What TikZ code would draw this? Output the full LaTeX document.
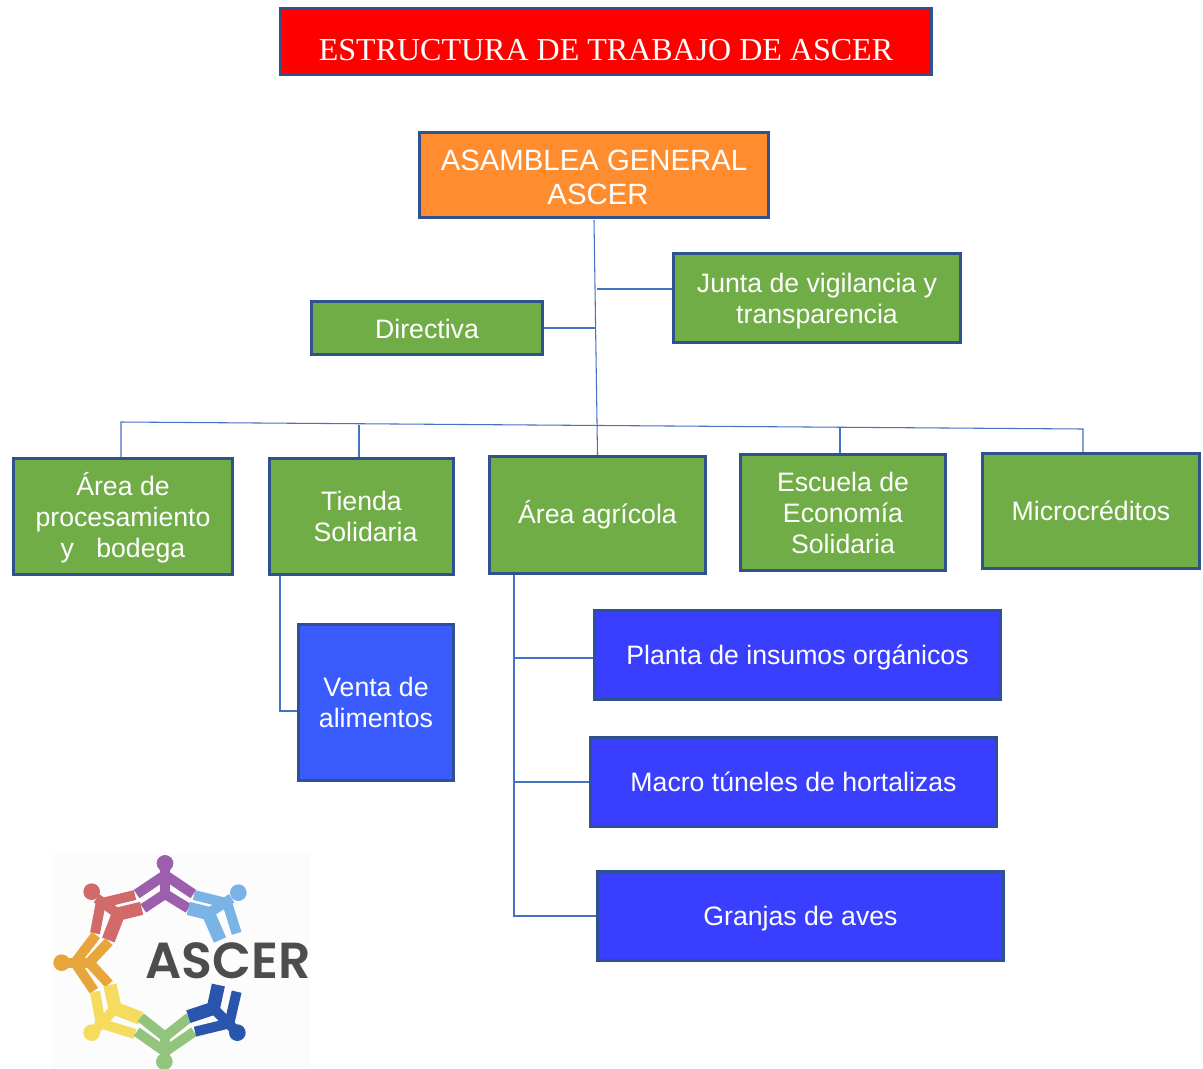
\documentclass[tikz,border=0pt]{standalone}
\usepackage{fontspec}
\setmainfont{Liberation Sans}
\newfontfamily\serifa{Liberation Serif}
\newfontfamily\logofont{Poppins SemiBold}
\definecolor{edge}{HTML}{2F528F}
\definecolor{wire}{HTML}{4472C4}
\definecolor{gr}{HTML}{70AD47}
\definecolor{orangebox}{HTML}{FF8C2E}
\definecolor{bluea}{HTML}{3A5CFF}
\definecolor{blueb}{HTML}{3A3FFF}
\definecolor{pur}{HTML}{9B5FAE}
\definecolor{lbl}{HTML}{7AB3E6}
\definecolor{rd}{HTML}{D26A6A}
\definecolor{org}{HTML}{E8A53C}
\definecolor{yel}{HTML}{F5DC5E}
\definecolor{grn}{HTML}{93C47D}
\definecolor{dbl}{HTML}{2A55AD}
\definecolor{lgc}{HTML}{4D4D4D}
\tikzset{
  base/.style={draw=edge,line width=2pt,text=white,align=center,inner sep=0pt,
    font=\fontsize{20}{23.25}\selectfont},
  greenbox/.style={base,fill=gr},
  orbox/.style={base,fill=orangebox,font=\fontsize{22}{25.5}\selectfont},
  redbox/.style={base,fill=red,font=\serifa\fontsize{24}{28}\selectfont},
  bluebox/.style={base,fill=blueb},
  bluesq/.style={base,fill=bluea},
  wirel/.style={draw=wire,line width=.8pt},
  limb/.style={line width=7.5pt,line join=miter,line cap=butt},
  limbw/.style={line width=10pt,line join=miter,line cap=butt}
}
\newcommand\pbox[7]{%
  \pgfmathsetmacro\pw{(#5-#3-2.7)*.75}%
  \pgfmathsetmacro\ph{(#6-#4-2.7)*.75}%
  \node[#2,minimum width=\pw pt,minimum height=\ph pt] (#1) at ({(#3+#5)/2},{(#4+#6)/2}) {#7};}
\newcommand\dn[2]{\raisebox{0pt}[\dimexpr\height+#1\relax]{#2}}
\begin{document}
\begin{tikzpicture}[x=.75pt,y=-.75pt]
\useasboundingbox (0,0) rectangle (1203,1068);
\pbox{title}{redbox}{279}{7}{933}{76}{\dn{13.5pt}{ESTRUCTURA DE TRABAJO DE ASCER}}
\pbox{asamblea}{orbox}{418}{131}{770}{219}{\dn{3pt}{ASAMBLEA GENERAL}\\\hspace*{6pt}ASCER}
\pbox{directiva}{greenbox}{310}{300}{544}{356}{\dn{1.5pt}{Directiva}}
\pbox{junta}{greenbox}{672}{252}{962}{344}{\dn{4.5pt}{Junta de vigilancia y}\\transparencia}
\pbox{proc}{greenbox}{12}{457}{234}{576}{\dn{1.5pt}{Área de}\\procesamiento\\y\ \ \ bodega}
\pbox{tienda}{greenbox}{268}{457}{455}{576}{Tienda\\\hspace*{6pt}Solidaria}
\pbox{agri}{greenbox}{488}{455}{707}{575}{Área agrícola}
\pbox{escuela}{greenbox}{739}{453}{947}{572}{\dn{1pt}{Escuela de}\\Economía\\Solidaria}
\pbox{micro}{greenbox}{981}{452}{1201}{570}{Microcréditos}
\pbox{venta}{bluesq}{297}{623}{455}{782}{Venta de\\alimentos}
\pbox{planta}{bluebox}{593}{609}{1002}{701}{\dn{3pt}{Planta de insumos orgánicos}}
\pbox{macro}{bluebox}{589}{736}{998}{828}{Macro túneles de hortalizas}
\pbox{granjas}{bluebox}{596}{870}{1005}{962}{\dn{4.5pt}{Granjas de aves}}
% junctions
\coordinate (trTop) at (594,220);
\coordinate (trJun) at (597,289);
\coordinate (trDir) at (594.5,328);
\coordinate (hL) at (121,422);
\coordinate (hT) at (359,425);
\coordinate (hE) at (840,428);
\coordinate (hR) at (1083,429);
\coordinate (vT) at (280,711);
\coordinate (vA) at (514,916);
\coordinate (vA1) at (514,658);
\coordinate (vA2) at (514,782);
\draw[wirel] (trTop) -- (agri.north);
\draw[wirel] (junta.west |- trJun) -- (trJun);
\draw[wirel] (directiva.east) -- (trDir);
\draw[wirel] (proc.north -| hL) -- (hL) -- (hR) -- (micro.north -| hR);
\draw[wirel] (tienda.north -| hT) -- (hT);
\draw[wirel] (escuela.north -| hE) -- (hE);
\draw[wirel] (tienda.south -| vT) -- (vT) -- (venta.west |- vT);
\draw[wirel] (agri.south -| vA) -- (vA) -- (granjas.west |- vA);
\draw[wirel] (vA1) -- (planta.west |- vA1);
\draw[wirel] (vA2) -- (macro.west |- vA2);
% logo
\fill[black!1] (52,853) rectangle (310,1068);
\begin{scope}[shift={(40,840)},x=.25pt,y=-.25pt]
\begin{scope}
\clip (0,0) rectangle (840,684);
% purple
\fill[pur] (375,70) circle (25);
\draw[limb,pur] (290,162) -- (375,105) -- (460,162);
\draw[limb,pur] (310,205) -- (375,162) -- (445,205);
\draw[limb,pur] (375,90) -- (375,162);
% light blue
\fill[lbl] (595,158) circle (25);
\draw[limb,lbl] (462,165) -- (562,190) -- (590,280);
\draw[limbw,lbl] (445,205) -- (505,220) -- (540,300);
\draw[limb,lbl] (505,220) -- (575,175);
% red
\fill[rd] (155,155) circle (25);
\draw[limb,rd] (285,165) -- (182,190) -- (165,280);
\draw[limbw,rd] (305,205) -- (235,222) -- (205,300);
\draw[limb,rd] (235,222) -- (170,175);
% orange
\fill[org] (65,368) circle (25);
\draw[limb,org] (168,285) -- (105,368) -- (162,452);
\draw[limb,org] (207,305) -- (148,368) -- (207,432);
\draw[limb,org] (85,368) -- (148,368);
% yellow
\fill[yel] (155,578) circle (25);
\draw[limb,yel] (165,455) -- (182,550) -- (285,582);
\draw[limbw,yel] (210,435) -- (225,505) -- (302,535);
\draw[limb,yel] (225,505) -- (170,565);
% green
\fill[grn] (373,665) circle (25);
\draw[limb,grn] (302,532) -- (375,590) -- (448,532);
\draw[limb,grn] (290,575) -- (375,635) -- (462,575);
\draw[limb,grn] (375,590) -- (375,650);
% dark blue
\fill[dbl] (592,578) circle (25);
\draw[limb,dbl] (590,455) -- (568,550) -- (465,575);
\draw[limbw,dbl] (535,435) -- (520,505) -- (445,530);
\draw[limb,dbl] (520,505) -- (580,565);
\end{scope}
\end{scope}
\node[text=lgc,font=\logofont\fontsize{38}{38}\selectfont,inner sep=0pt] (logotxt) at (228,961) {ASCER};
\end{tikzpicture}
\end{document}
